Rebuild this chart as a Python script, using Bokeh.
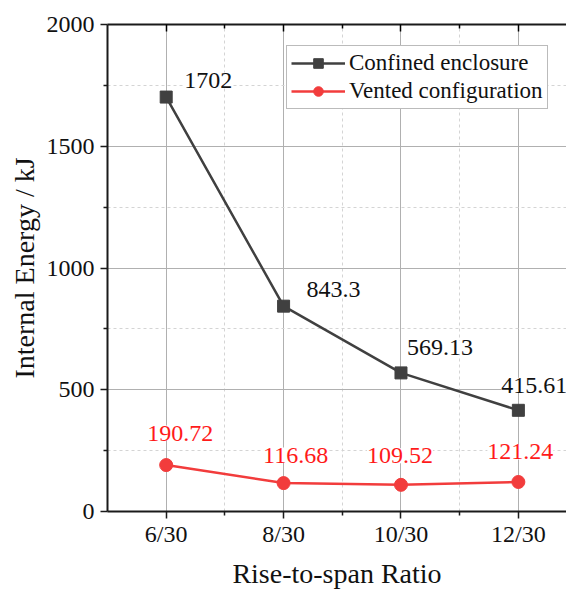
from bokeh.plotting import figure
from bokeh.models import (ColumnDataSource, FixedTicker, LinearAxis, Label,
                          Range1d, Legend, LegendItem)
from bokeh.embed import file_html
from bokeh.resources import INLINE

# Data
ratios = ["6/30", "8/30", "10/30", "12/30"]
confined = [1702, 843.3, 569.13, 415.61]
vented = [190.72, 116.68, 109.52, 121.24]
y_ticks = [0, 500, 1000, 1500, 2000]
y_minor = [250, 750, 1250, 1750]

# Placement of the value labels next to each point (screen pixels, +y is up)
confined_dx = [18, 23, 6, -17]
confined_dy = [17, 17, 25, 25]
vented_dx = [14, 12, -1, 2]
vented_dy = [32, 28, 29, 30]

FONT = "Liberation Serif"
DARK = "#404040"
RED = "#f23c3c"

xs = list(range(1, len(ratios) + 1))
x_minor = [x + 0.5 for x in xs[:-1]]

p = figure(width=566, height=591,
           x_range=Range1d(0.5, 4.41), y_range=Range1d(0, 2000),
           output_backend="svg", toolbar_location=None,
           min_border_left=107, min_border_right=0,
           min_border_top=24, min_border_bottom=79,
           x_axis_label="Rise-to-span Ratio",
           y_axis_label="Internal Energy / kJ")
p.outline_line_color = None
p.background_fill_color = "white"
p.border_fill_color = "white"

# Axes
xt = FixedTicker(ticks=xs, minor_ticks=x_minor)
yt = FixedTicker(ticks=y_ticks, minor_ticks=y_minor)
p.xaxis.ticker = xt
p.yaxis.ticker = yt
p.xaxis.major_label_overrides = {x: r for x, r in zip(xs, ratios)}

for ax in (p.xaxis[0], p.yaxis[0]):
    ax.axis_line_width = 2
    ax.axis_line_color = "#1a1a1a"
    ax.major_tick_line_width = 1.5
    ax.minor_tick_line_width = 1.5
    ax.major_tick_line_color = "#1a1a1a"
    ax.minor_tick_line_color = "#1a1a1a"
    ax.major_tick_in = 0
    ax.major_tick_out = 7
    ax.minor_tick_in = 0
    ax.minor_tick_out = 4
    ax.major_label_text_font = FONT
    ax.major_label_text_font_size = "24px"
    ax.major_label_text_color = "#111111"
    ax.axis_label_text_font = FONT
    ax.axis_label_text_font_size = "28px"
    ax.axis_label_text_font_style = "normal"
    ax.axis_label_text_color = "#111111"

p.xaxis.major_label_standoff = 2
p.xaxis.axis_label_standoff = 8
p.yaxis.major_label_standoff = 6
p.yaxis.axis_label_standoff = 4

# Top frame edge with inward ticks, no labels
top = LinearAxis(ticker=FixedTicker(ticks=xs, minor_ticks=x_minor),
                 axis_line_width=2, axis_line_color="#1a1a1a",
                 major_tick_in=7, major_tick_out=0,
                 minor_tick_in=4, minor_tick_out=0,
                 major_tick_line_width=1.5, minor_tick_line_width=1.5,
                 major_label_standoff=0)
top.major_label_overrides = {x: "" for x in xs}
p.add_layout(top, "above")

# Grid
for g in (p.xgrid[0], p.ygrid[0]):
    g.grid_line_color = "#b0b0b0"
    g.grid_line_width = 1
    g.minor_grid_line_color = "#d4d4d4"
    g.minor_grid_line_dash = "3 3"
    g.minor_grid_line_width = 1

# Series
src_c = ColumnDataSource(dict(x=xs, y=confined))
src_v = ColumnDataSource(dict(x=xs, y=vented))

lc = p.line("x", "y", source=src_c, line_color=DARK, line_width=2.5)
mc = p.scatter("x", "y", source=src_c, marker="square", size=12,
               fill_color=DARK, line_color=DARK)
lv = p.line("x", "y", source=src_v, line_color=RED, line_width=2.5)
mv = p.scatter("x", "y", source=src_v, marker="circle", size=13,
               fill_color=RED, line_color=RED)

# Value labels on a white box so the grid does not run through them
for x, v, dx, dy in zip(xs, confined, confined_dx, confined_dy):
    p.add_layout(Label(x=x, y=v, text=f"{v:g}", x_offset=dx, y_offset=dy,
                       text_align="left", text_baseline="middle",
                       text_font=FONT, text_font_size="24px",
                       text_color="#111111", background_fill_color="white"))
for x, v, dx, dy in zip(xs, vented, vented_dx, vented_dy):
    p.add_layout(Label(x=x, y=v, text=f"{v:g}", x_offset=dx, y_offset=dy,
                       text_align="center", text_baseline="middle",
                       text_font=FONT, text_font_size="24px",
                       text_color="#ff1a1a", background_fill_color="white"))

legend = Legend(items=[LegendItem(label="Confined enclosure", renderers=[lc, mc]),
                       LegendItem(label="Vented configuration", renderers=[lv, mv])],
                location=(179, 402))
legend.label_text_font = FONT
legend.label_text_font_size = "23px"
legend.label_text_color = "#111111"
legend.glyph_width = 54
legend.glyph_height = 24
legend.label_height = 24
legend.label_standoff = 4
legend.spacing = 2
legend.padding = 4
legend.margin = 0
legend.border_line_color = "#777777"
legend.border_line_width = 1
legend.background_fill_color = "white"
legend.background_fill_alpha = 1
p.add_layout(legend)

open("out.html", "w").write(file_html(p, INLINE))
